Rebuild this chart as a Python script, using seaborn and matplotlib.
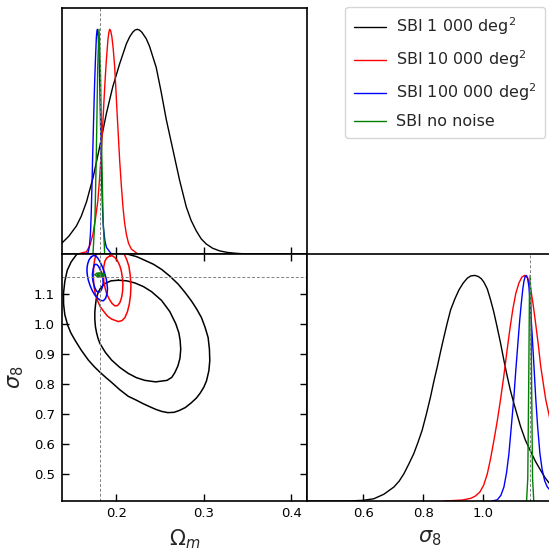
import matplotlib
matplotlib.use("Agg")
import matplotlib.pyplot as plt
import seaborn as sns
from matplotlib.lines import Line2D

# ---- values ----
# fiducial (true) parameter values
fid_om = 0.181
fid_s8 = 1.156

labels = ["SBI 1 000 deg$^2$", "SBI 10 000 deg$^2$", "SBI 100 000 deg$^2$", "SBI no noise"]
colors = ["black", "red", "blue", "green"]

# 1D marginal of Omega_m (peak normalised to 1)
om_x_1000 = [0.138, 0.146, 0.1545, 0.160, 0.166, 0.1735, 0.181, 0.1887, 0.196, 0.204, 0.2085,
             0.2115, 0.2155, 0.219, 0.2215, 0.224, 0.2265, 0.2295, 0.2343, 0.238, 0.2457,
             0.2514, 0.2571, 0.2647, 0.2723, 0.280, 0.2855, 0.2913, 0.297, 0.3027, 0.310,
             0.318, 0.327, 0.337, 0.35, 0.418]
om_y_1000 = [0.049, 0.08, 0.125, 0.168, 0.232, 0.34, 0.476, 0.625, 0.744, 0.848, 0.9,
             0.935, 0.968, 0.988, 0.997, 1.0, 0.997, 0.986, 0.958, 0.925, 0.83,
             0.72, 0.6, 0.465, 0.33, 0.21, 0.15, 0.104, 0.068, 0.045, 0.026,
             0.014, 0.007, 0.003, 0.0, 0.0]
om_x_10000 = [0.156, 0.166, 0.170, 0.1734, 0.176, 0.179, 0.181, 0.183, 0.1845, 0.186, 0.1875,
              0.1887, 0.1905, 0.1915, 0.1924, 0.1935, 0.195, 0.1965, 0.1982, 0.1995, 0.2008,
              0.2024, 0.2039, 0.2058, 0.2077, 0.2095, 0.2115, 0.214, 0.2172, 0.2247, 0.232]
om_y_10000 = [0.0, 0.01, 0.04, 0.089, 0.15, 0.238, 0.34, 0.461, 0.57, 0.684, 0.79,
              0.863, 0.955, 0.985, 1.0, 0.995, 0.967, 0.915, 0.833, 0.74, 0.64,
              0.525, 0.417, 0.305, 0.208, 0.14, 0.089, 0.048, 0.022, 0.0, 0.0]
om_x_100000 = [0.163, 0.1677, 0.1692, 0.1705, 0.1714, 0.1723, 0.1732, 0.1742, 0.1752, 0.1762,
               0.1773, 0.1779, 0.1785, 0.1794, 0.1803, 0.1811, 0.1819, 0.1826, 0.1834, 0.1843,
               0.1853, 0.187, 0.1887, 0.1944]
om_y_100000 = [0.0, 0.005, 0.03, 0.089, 0.18, 0.3125, 0.46, 0.61, 0.75, 0.863,
               0.967, 0.99, 1.0, 0.97, 0.908, 0.77, 0.61, 0.46, 0.3125, 0.2,
               0.119, 0.06, 0.03, 0.0]
om_x_nonoise = [0.1734, 0.1757, 0.1773, 0.1788, 0.1803, 0.1819, 0.1834, 0.1849, 0.1868]
om_y_nonoise = [0.0, 0.16, 0.46, 0.83, 1.0, 0.83, 0.46, 0.16, 0.0]

# 1D marginal of sigma_8 (peak normalised to 1)
s8_x_1000 = [0.414, 0.55, 0.6, 0.6355, 0.669, 0.7025, 0.72, 0.736, 0.752, 0.769, 0.783, 0.797,
             0.811, 0.825, 0.836, 0.8475, 0.859, 0.87, 0.881, 0.892, 0.906, 0.92, 0.934, 0.948,
             0.96, 0.9733, 0.985, 0.995, 1.0034, 1.0147, 1.025, 1.036, 1.047, 1.059, 1.07,
             1.081, 1.092, 1.1037, 1.115, 1.126, 1.142, 1.1595, 1.176, 1.193, 1.208, 1.223, 1.232]
s8_y_1000 = [0.0, 0.0, 0.003, 0.01, 0.03, 0.062, 0.088, 0.121, 0.163, 0.21, 0.26, 0.314,
             0.385, 0.462, 0.53, 0.595, 0.665, 0.729, 0.79, 0.847, 0.895, 0.936, 0.966, 0.988,
             0.998, 1.0, 0.995, 0.985, 0.97, 0.94, 0.895, 0.84, 0.775, 0.70, 0.625,
             0.555, 0.49, 0.432, 0.38, 0.33, 0.27, 0.22, 0.175, 0.136, 0.103, 0.077, 0.066]
s8_x_10000 = [0.87, 0.93, 0.96, 0.975, 0.99, 1.0025, 1.0147, 1.026, 1.037, 1.048, 1.059, 1.07,
              1.08, 1.09, 1.10, 1.11, 1.12, 1.13, 1.139, 1.149, 1.158, 1.167, 1.176, 1.185,
              1.193, 1.202, 1.21, 1.223, 1.232]
s8_y_10000 = [0.0, 0.004, 0.012, 0.022, 0.04, 0.07, 0.12, 0.19, 0.27, 0.355, 0.45, 0.555,
              0.66, 0.76, 0.85, 0.92, 0.965, 0.992, 1.0, 0.99, 0.955, 0.88, 0.79, 0.695,
              0.6, 0.52, 0.45, 0.37, 0.32]
s8_x_100000 = [1.03, 1.048, 1.06, 1.0703, 1.079, 1.087, 1.095, 1.1037, 1.11, 1.117, 1.123,
               1.1284, 1.133, 1.137, 1.141, 1.145, 1.149, 1.1538, 1.159, 1.165, 1.171, 1.1763,
               1.183, 1.1906, 1.198, 1.2064, 1.215, 1.223, 1.232]
s8_y_100000 = [0.0, 0.005, 0.025, 0.062, 0.125, 0.21, 0.33, 0.462, 0.58, 0.699, 0.80,
               0.877, 0.935, 0.973, 0.995, 1.0, 0.99, 0.951, 0.86, 0.729, 0.59, 0.462,
               0.33, 0.21, 0.14, 0.09, 0.063, 0.05, 0.04]
s8_x_nonoise = [1.146, 1.150, 1.153, 1.1555, 1.158, 1.1605, 1.163, 1.166, 1.170]
s8_y_nonoise = [0.0, 0.1, 0.5, 0.9, 1.0, 0.9, 0.5, 0.1, 0.0]

# 2D contours (95% and 68%), points traced around each closed curve
c95_om_1000 = [0.1548, 0.1485, 0.144, 0.1412, 0.1397, 0.1398, 0.1412, 0.1445, 0.148, 0.1529,
               0.160, 0.1682, 0.175, 0.181, 0.1875, 0.1948, 0.204, 0.2138, 0.2225, 0.2305,
               0.238, 0.245, 0.252, 0.259, 0.266, 0.272, 0.279, 0.2855, 0.2915, 0.296,
               0.300, 0.3031, 0.3058, 0.3069, 0.3065, 0.305, 0.3015, 0.2974, 0.292, 0.286,
               0.2785, 0.2708, 0.2615, 0.2518, 0.2425, 0.2327, 0.2235, 0.2138, 0.195, 0.175,
               0.1548]
c95_s8_1000 = [1.230, 1.205, 1.177, 1.14, 1.10, 1.065, 1.03, 0.995, 0.97, 0.945,
               0.912, 0.879, 0.857, 0.840, 0.823, 0.805, 0.781, 0.759, 0.747, 0.735,
               0.725, 0.716, 0.709, 0.705, 0.706, 0.712, 0.722, 0.737, 0.753, 0.770,
               0.789, 0.810, 0.843, 0.877, 0.915, 0.954, 0.988, 1.020, 1.048, 1.075,
               1.104, 1.131, 1.157, 1.18, 1.197, 1.21, 1.222, 1.23, 1.25, 1.255,
               1.230]
c68_om_1000 = [0.2024, 0.194, 0.1871, 0.1825, 0.1795, 0.1772, 0.1762, 0.1755, 0.1755, 0.1762,
               0.1775, 0.1792, 0.1814, 0.1875, 0.1948, 0.204, 0.2138, 0.223, 0.2327, 0.245,
               0.258, 0.2635, 0.267, 0.2705, 0.2728, 0.2737, 0.273, 0.2715, 0.268, 0.2612,
               0.2518, 0.2404, 0.231, 0.2213, 0.212, 0.2024]
c68_s8_1000 = [1.144, 1.142, 1.133, 1.12, 1.105, 1.083, 1.06, 1.038, 1.015, 0.99,
               0.97, 0.951, 0.934, 0.905, 0.879, 0.855, 0.835, 0.821, 0.812, 0.807,
               0.812, 0.822, 0.838, 0.86, 0.885, 0.915, 0.945, 0.97, 1.0, 1.040,
               1.077, 1.106, 1.123, 1.135, 1.142, 1.144]
c95_om_10000 = [0.177, 0.1752, 0.1742, 0.1738, 0.1745, 0.176, 0.1788, 0.1818, 0.1853, 0.19,
                0.1948, 0.2024, 0.2065, 0.2099, 0.2128, 0.2149, 0.2163, 0.2168, 0.216, 0.2145,
                0.212, 0.209, 0.200, 0.188, 0.177]
c95_s8_10000 = [1.232, 1.21, 1.19, 1.155, 1.125, 1.10, 1.075, 1.056, 1.042, 1.025,
                1.015, 1.007, 1.010, 1.020, 1.04, 1.0645, 1.095, 1.125, 1.16, 1.19,
                1.212, 1.232, 1.262, 1.26, 1.232]
c68_om_10000 = [0.1928, 0.1895, 0.1871, 0.1857, 0.1853, 0.1858, 0.1871, 0.1892, 0.1921, 0.1952,
                0.1985, 0.2015, 0.2042, 0.2062, 0.2073, 0.2076, 0.207, 0.2059, 0.2042, 0.2015,
                0.1985, 0.1955, 0.1928]
c68_s8_10000 = [1.2246, 1.219, 1.208, 1.188, 1.164, 1.14, 1.12, 1.098, 1.081, 1.067,
                1.059, 1.06, 1.070, 1.088, 1.109, 1.131, 1.153, 1.173, 1.191, 1.208,
                1.219, 1.225, 1.2246]
c95_om_100000 = [0.1716, 0.169, 0.1675, 0.1667, 0.1665, 0.167, 0.168, 0.170, 0.1725, 0.1755,
                 0.1785, 0.182, 0.1853, 0.1878, 0.1895, 0.190, 0.1895, 0.1885, 0.1865, 0.1842,
                 0.1815, 0.179, 0.1765, 0.174, 0.1716]
c95_s8_100000 = [1.222, 1.212, 1.2, 1.188, 1.175, 1.16, 1.145, 1.127, 1.11, 1.095,
                 1.085, 1.077, 1.076, 1.084, 1.1, 1.115, 1.13, 1.15, 1.17, 1.188,
                 1.205, 1.217, 1.225, 1.226, 1.222]
c68_om_100000 = [0.175, 0.1737, 0.1728, 0.1729, 0.1735, 0.1745, 0.1757, 0.1775, 0.1795, 0.1817,
                 0.1834, 0.1845, 0.185, 0.1848, 0.184, 0.1827, 0.181, 0.1795, 0.1778, 0.1763,
                 0.175]
c68_s8_100000 = [1.194, 1.182, 1.165, 1.152, 1.14, 1.128, 1.118, 1.108, 1.104, 1.106,
                 1.115, 1.125, 1.135, 1.148, 1.16, 1.172, 1.183, 1.191, 1.196, 1.197,
                 1.194]
c95_om_nonoise = [0.1759, 0.1775, 0.1814, 0.1853, 0.1869, 0.1853, 0.1814, 0.1775, 0.1759]
c95_s8_nonoise = [1.162, 1.167, 1.1685, 1.166, 1.162, 1.157, 1.1555, 1.158, 1.162]
c68_om_nonoise = [0.1787, 0.1795, 0.1814, 0.1833, 0.1841, 0.1833, 0.1814, 0.1795, 0.1787]
c68_s8_nonoise = [1.162, 1.1645, 1.1653, 1.1642, 1.162, 1.1598, 1.1587, 1.1598, 1.162]

om_ticks = [0.2, 0.3, 0.4]
s8_ticks_y = [0.5, 0.6, 0.7, 0.8, 0.9, 1.0, 1.1]
s8_ticks_x = [0.6, 0.8, 1.0]

om_marg = [(om_x_1000, om_y_1000), (om_x_10000, om_y_10000),
           (om_x_100000, om_y_100000), (om_x_nonoise, om_y_nonoise)]
s8_marg = [(s8_x_1000, s8_y_1000), (s8_x_10000, s8_y_10000),
           (s8_x_100000, s8_y_100000), (s8_x_nonoise, s8_y_nonoise)]
contours = [[(c95_om_1000, c95_s8_1000), (c68_om_1000, c68_s8_1000)],
            [(c95_om_10000, c95_s8_10000), (c68_om_10000, c68_s8_10000)],
            [(c95_om_100000, c95_s8_100000), (c68_om_100000, c68_s8_100000)],
            [(c95_om_nonoise, c95_s8_nonoise), (c68_om_nonoise, c68_s8_nonoise)]]

# ---- style ----
sns.set_theme(style="ticks", rc={
    "xtick.direction": "in", "ytick.direction": "in",
    "axes.edgecolor": "black", "axes.linewidth": 1.2,
    "xtick.color": "black", "ytick.color": "black",
})
plt.rcParams["font.family"] = ["DejaVu Sans"]

W, H = 549, 554
fig = plt.figure(figsize=(W / 100, H / 100), dpi=100)


def px_axes(x0, y0, x1, y1):
    return fig.add_axes([x0 / W, 1 - y1 / H, (x1 - x0) / W, (y1 - y0) / H])


ax_om = px_axes(62, 8, 307, 254)
ax_2d = px_axes(62, 254, 307, 501)
ax_s8 = px_axes(307, 254, 552, 501)

om_lim = (0.138, 0.418)
s8_lim = (0.412, 1.231)
marg_top = 1.095

# top: Omega_m marginals
for (xs, ys), c in zip(om_marg, colors):
    sns.lineplot(x=xs, y=ys, sort=False, estimator=None, color=c, lw=1.0, ax=ax_om)
ax_om.axvline(fid_om, color="grey", ls="--", lw=0.7, dashes=(3, 2))
ax_om.set_xlim(om_lim)
ax_om.set_ylim(0, marg_top)
ax_om.set_xticks(om_ticks)
ax_om.set_xticklabels([])
ax_om.set_yticks([])
ax_om.tick_params(axis="x", length=5, width=1)

# bottom left: 2D contours
for pair, c in zip(contours, colors):
    for xs, ys in pair:
        sns.lineplot(x=xs, y=ys, sort=False, estimator=None, color=c, lw=1.1, ax=ax_2d)
ax_2d.axvline(fid_om, color="grey", ls="--", lw=0.7, dashes=(3, 2))
ax_2d.axhline(fid_s8, color="grey", ls="--", lw=0.7, dashes=(3, 2))
ax_2d.set_xlim(om_lim)
ax_2d.set_ylim(s8_lim)
ax_2d.set_xticks(om_ticks)
ax_2d.set_yticks(s8_ticks_y)
ax_2d.set_xticklabels([f"{t:.1f}" for t in om_ticks])
ax_2d.set_yticklabels([f"{t:.1f}" for t in s8_ticks_y])
ax_2d.tick_params(top=True, right=True, length=5, width=1, labelsize=9.5)
ax_2d.tick_params(axis="y", pad=5)
ax_2d.tick_params(axis="x", pad=4)
ax_2d.set_xlabel(r"$\Omega_m$", fontsize=15, labelpad=6)
ax_2d.set_ylabel(r"$\sigma_8$", fontsize=15, labelpad=6)

# bottom right: sigma_8 marginals
for (xs, ys), c in zip(s8_marg, colors):
    sns.lineplot(x=xs, y=ys, sort=False, estimator=None, color=c, lw=1.0, ax=ax_s8)
ax_s8.axvline(fid_s8, color="grey", ls="--", lw=0.7, dashes=(3, 2))
ax_s8.set_xlim(s8_lim)
ax_s8.set_ylim(0, marg_top)
ax_s8.set_xticks(s8_ticks_x)
ax_s8.set_xticklabels([f"{t:.1f}" for t in s8_ticks_x])
ax_s8.set_yticks([])
ax_s8.tick_params(axis="x", length=5, width=1, labelsize=9.5, pad=4)
ax_s8.set_xlabel(r"$\sigma_8$", fontsize=15, labelpad=6)

for ax in (ax_om, ax_2d, ax_s8):
    for sp in ax.spines.values():
        sp.set_visible(True)
        sp.set_color("black")

handles = [Line2D([], [], color=c, lw=1) for c in colors]
fig.legend(handles, labels, loc="upper right", bbox_to_anchor=(545 / W, 1 - 7 / H),
           borderaxespad=0, fontsize=11.5, frameon=True, handlelength=2.0,
           handletextpad=0.6, labelspacing=0.7, borderpad=0.55, fancybox=True,
           edgecolor="0.8")

fig.savefig("out.png", dpi=100)
